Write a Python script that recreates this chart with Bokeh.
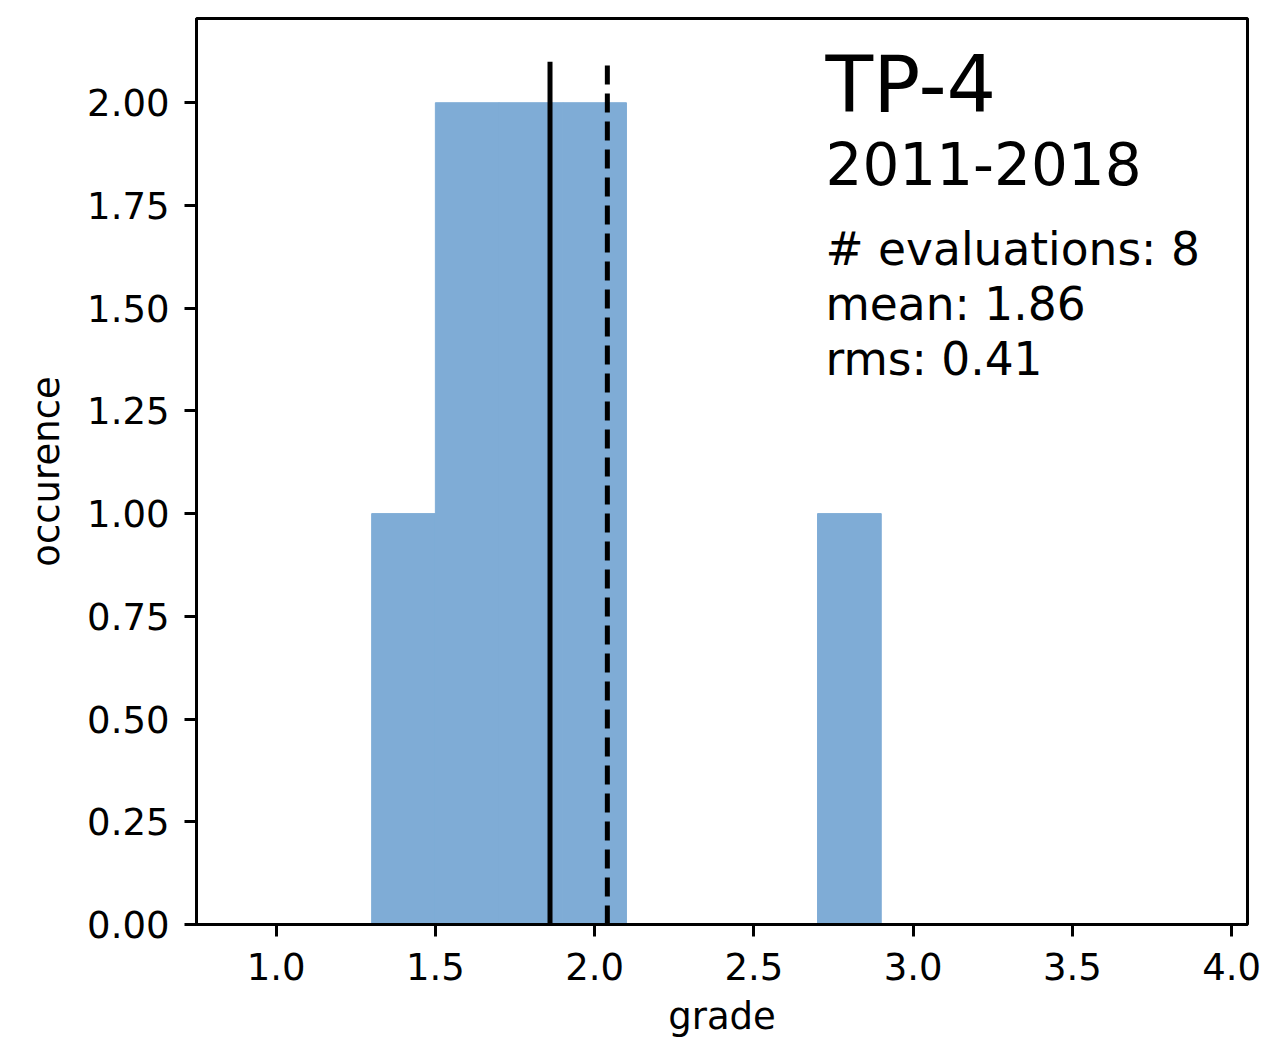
from bokeh.plotting import figure
from bokeh.models import Label, FixedTicker, NumeralTickFormatter, Range1d
from bokeh.embed import file_html
from bokeh.resources import INLINE

# ---- data ----
bin_left = [1.3, 1.5, 1.7, 1.9, 2.7]
bin_right = [1.5, 1.7, 1.9, 2.1, 2.9]
counts = [1, 2, 2, 2, 1]
mean_grade = 1.86
median_grade = 2.04
line_top = 2.1
x_ticks = [1.0, 1.5, 2.0, 2.5, 3.0, 3.5, 4.0]
y_ticks = [0.0, 0.25, 0.5, 0.75, 1.0, 1.25, 1.5, 1.75, 2.0]
title_text = "TP-4"
period_text = "2011-2018"
stats_lines = ["# evaluations: 8", "mean: 1.86", "rms: 0.41"]

FONT = "DejaVu Sans"
BAR = "#7facd6"

p = figure(frame_width=1051, frame_height=906, output_backend="svg", toolbar_location=None,
           x_range=Range1d(0.75, 4.05), y_range=Range1d(0, 2.205))
p.min_border_left = 196
p.min_border_top = 18
p.min_border_right = 17
p.min_border_bottom = 100

p.quad(left=bin_left, right=bin_right, bottom=0, top=counts,
       fill_color=BAR, line_color=BAR, line_width=1)

p.segment(x0=[mean_grade], y0=[0], x1=[mean_grade], y1=[line_top],
          line_color="black", line_width=5)
p.segment(x0=[median_grade], y0=[0], x1=[median_grade], y1=[line_top],
          line_color="black", line_width=5, line_dash="19 9")

p.xgrid.visible = False
p.ygrid.visible = False
p.outline_line_color = "black"
p.outline_line_width = 3
p.outline_line_alpha = 1

for ax in (p.xaxis[0], p.yaxis[0]):
    ax.axis_line_width = 3
    ax.major_tick_line_width = 3
    ax.major_tick_out = 12
    ax.major_tick_in = 0
    ax.minor_tick_line_color = None
    ax.major_label_text_font = FONT
    ax.major_label_text_font_size = "37px"
    ax.major_label_text_color = "black"
    ax.axis_label_text_font = FONT
    ax.axis_label_text_font_size = "37px"
    ax.axis_label_text_font_style = "normal"
    ax.axis_label_text_color = "black"

p.xaxis.ticker = FixedTicker(ticks=x_ticks)
p.yaxis.ticker = FixedTicker(ticks=y_ticks)
p.xaxis.formatter = NumeralTickFormatter(format="0.0")
p.yaxis.formatter = NumeralTickFormatter(format="0.00")
p.xaxis.axis_label = "grade"
p.yaxis.axis_label = "occurence"
p.xaxis.major_label_standoff = 16
p.yaxis.major_label_standoff = 15
p.xaxis.axis_label_standoff = 12
p.yaxis.axis_label_standoff = 16

p.add_layout(Label(x=2.725, y=2.044, text=title_text, text_font=FONT, text_color="black",
                   text_font_size="78px", text_baseline="alphabetic"))
p.add_layout(Label(x=2.725, y=1.852, text=period_text, text_font=FONT, text_color="black",
                   text_font_size="58px", text_baseline="alphabetic"))
for txt, yy in zip(stats_lines, [1.643, 1.509, 1.375]):
    p.add_layout(Label(x=2.725, y=yy, text=txt, text_font=FONT, text_color="black",
                       text_font_size="45.5px", text_baseline="alphabetic"))

open("out.html", "w").write(file_html(p, INLINE))
